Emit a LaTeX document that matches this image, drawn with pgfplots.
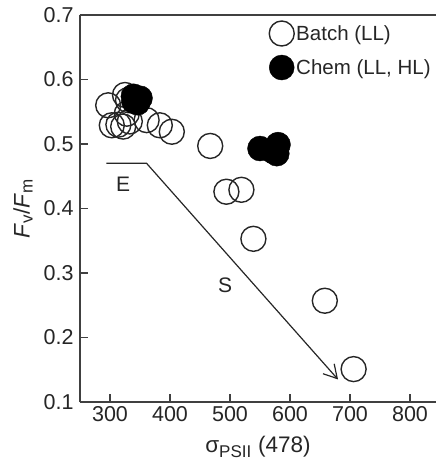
\documentclass[border=0pt]{standalone}
\usepackage{fontspec}
\setmainfont{Liberation Sans}
\usepackage{pgfplots}
\pgfplotsset{compat=1.18}
\usetikzlibrary{arrows.meta}
\definecolor{ax}{HTML}{404040}
\begin{document}
\begin{tikzpicture}
\begin{axis}[
  scale only axis,
  width=356bp, height=387bp,
  xmin=250, xmax=843.3, ymin=0.1, ymax=0.7,
  axis x line*=box, axis y line*=left,
  xtick pos=bottom, ytick pos=left,
  tick align=inside,
  major tick length=8bp,
  axis line style={ax, line width=1.3bp},
  every tick/.style={ax, line width=1.3bp},
  xtick={300,400,...,800},
  ytick={0.1,0.2,...,0.7},
  /pgf/number format/assume math mode=true,
  yticklabel style={/pgf/number format/fixed, /pgf/number format/precision=1, /pgf/number format/fixed zerofill},
  tick label style={font=\fontsize{21.5bp}{24bp}\selectfont, text=black!85},
  label style={font=\fontsize{22.5bp}{26bp}\selectfont, text=black!85},
  xticklabel style={yshift=-1bp},
  yticklabel style={xshift=-3bp},
  xlabel={σ\textsubscript{\fontsize{17bp}{17bp}\selectfont PSII} (478)},
  ylabel={\textit{F}\textsubscript{\fontsize{17bp}{17bp}\selectfont v}/\textit{F}\textsubscript{\fontsize{17bp}{17bp}\selectfont m}},
  xlabel style={at={(axis description cs:0.5,0)}, anchor=center, yshift=-45bp},
  ylabel style={at={(axis description cs:0,0.5)}, anchor=center, yshift=57bp},
  legend style={draw=none, fill=none, at={(0.531,0.985)}, anchor=north west,
     font=\fontsize{20.5bp}{24bp}\selectfont, text=black!85, row sep=9bp, inner sep=0pt},
  legend cell align=left,
  legend image post style={xshift=-6bp},
  clip=false,
]
\addplot[only marks, mark=o, mark size=12.5bp, line width=1.4bp, black!85] coordinates {
 (297,0.560) (303,0.529) (322,0.527) (314,0.530) (333,0.535) (328,0.547) (330,0.568) (325,0.576)
 (361,0.537) (383,0.529) (403,0.519) (467,0.497) (494,0.426) (519,0.429) (539,0.353)
 (658,0.257) (706,0.151)
};
\addlegendentry{Batch (LL)}
\addplot[only marks, mark=*, mark size=12.5bp, black, mark options={fill=black}] coordinates {
 (339,0.574) (350,0.571) (346,0.564) (340,0.566)
 (550,0.493) (580,0.499) (578,0.485) (571,0.489)
};
\addlegendentry{Chem (LL, HL)}
\draw[black!85, line width=1.2bp, -{Straight Barb[length=13bp,width=15bp,line width=1.2bp]}]
  (axis cs:294,0.47) -- (axis cs:361,0.47) -- (axis cs:680,0.135);
\node[font=\fontsize{21bp}{24bp}\selectfont, text=black!85] at (axis cs:322,0.437) {E};
\node[font=\fontsize{21bp}{24bp}\selectfont, text=black!85] at (axis cs:492,0.281) {S};
\end{axis}
\pgfresetboundingbox
\path (current axis.south west) ++(-80bp,-58bp) rectangle ++(436bp,460bp);
\end{tikzpicture}
\end{document}
